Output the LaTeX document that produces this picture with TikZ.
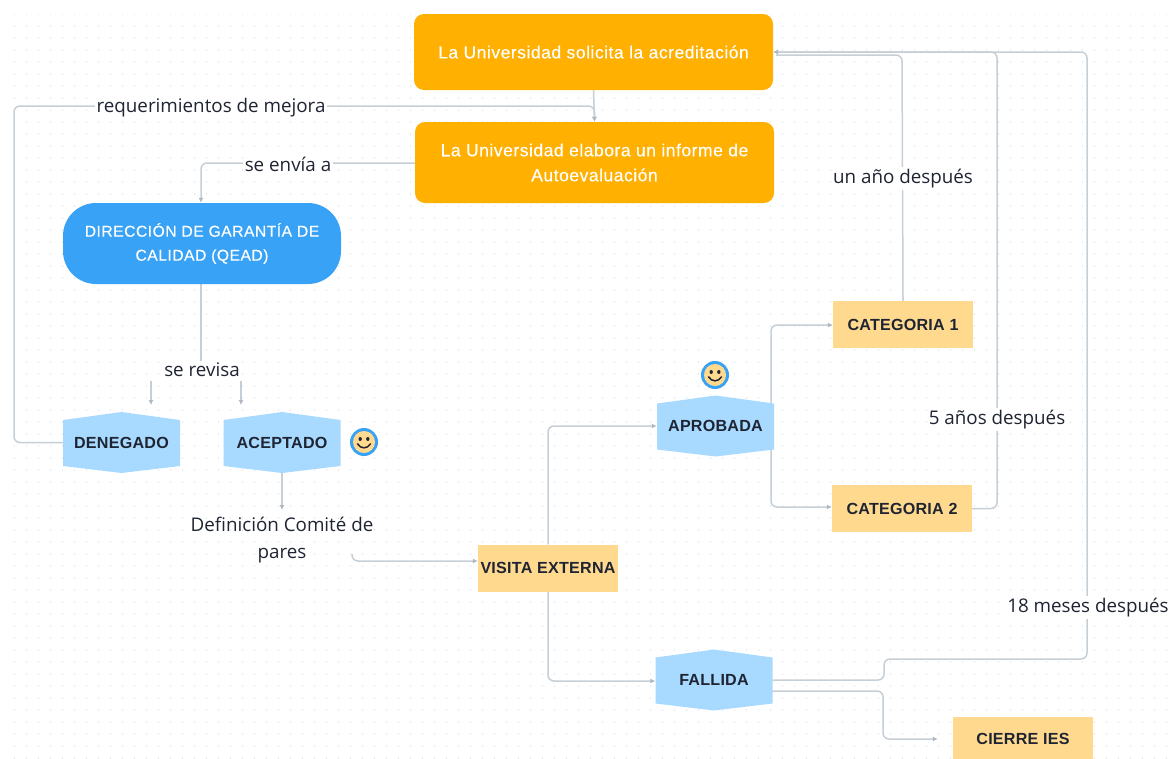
\documentclass[tikz,border=0pt]{standalone}
\usepackage{fontspec}
\setmainfont{Open Sans}
\newfontfamily\boxfont[LetterSpace=3,FakeBold=0.25]{Liberation Sans}
\newfontfamily\headfont[LetterSpace=1.5]{Liberation Sans}
\usetikzlibrary{arrows.meta,calc}
\pgfdeclarelayer{gridlayer}
\pgfdeclarelayer{edgelayer}
\pgfsetlayers{gridlayer,edgelayer,main}
\definecolor{orangebox}{HTML}{FFB000}
\definecolor{bluebox}{HTML}{37A2F6}
\definecolor{hexblue}{HTML}{A8DAFF}
\definecolor{sandbox}{HTML}{FFD98E}
\definecolor{linecol}{HTML}{C6CED6}
\definecolor{tipcol}{HTML}{AEB8C2}
\definecolor{inkcol}{HTML}{1F2433}
\definecolor{dotcol}{HTML}{E6E9EC}
\tikzset{
  x=1pt,y=-1pt,
  orangenode/.style={fill=orangebox,rounded corners=10pt,text=white,minimum width=359pt,minimum height=#1,inner sep=0pt,align=center,font=\boxfont\fontsize{17.5}{25}\selectfont},
  qeadnode/.style={fill=bluebox,rounded corners=33pt,text=white,minimum width=278pt,minimum height=81pt,inner sep=0pt,align=center,font=\boxfont\fontsize{15.7}{24}\selectfont},
  sandnode/.style={fill=sandbox,minimum width=#1,minimum height=47pt,inner sep=0pt,text=inkcol,font=\headfont\bfseries\fontsize{16.1}{17}\selectfont},
  hexnode/.style={minimum width=117pt,minimum height=61pt,inner sep=0pt,text=inkcol,font=\headfont\bfseries\fontsize{16.1}{17}\selectfont,
    path picture={\fill[hexblue] (path picture bounding box.north) -- ($(path picture bounding box.north east)+(0,8)$) -- ($(path picture bounding box.south east)+(0,-7)$) -- (path picture bounding box.south) -- ($(path picture bounding box.south west)+(0,-7)$) -- ($(path picture bounding box.north west)+(0,8)$) -- cycle;}},
  labelnode/.style={fill=white,inner sep=2pt,text=inkcol,align=center,font=\fontsize{18.8}{27}\selectfont},
  link/.style={draw=linecol,line width=1.5pt,rounded corners=6pt},
  arrowlink/.style={link,-{Latex[length=5pt,width=5pt,color=tipcol]}},
  smiley/.pic={
    \fill[bluebox] (0,0) circle (14);
    \fill[sandbox] (0,0) circle (11);
    \fill[inkcol] (-3.8,-3) ellipse (1.7 and 2) (3.8,-3) ellipse (1.7 and 2);
    \draw[inkcol,line width=1.5pt,line cap=round] (-6.5,1.8) .. controls (-3,7.2) and (3,7.2) .. (6.5,1.8);
  }
}
\begin{document}
\begin{tikzpicture}
\useasboundingbox (0,0) rectangle (1169,758);
\node[orangenode=76pt] (solicita) at (593.5,52) {La Universidad solicita la acreditación};
\node[orangenode=81pt] (informe) at (594.5,162.5) {La Universidad elabora un informe de\\Autoevaluación};
\node[qeadnode] (qead) at (202,243.5) {DIRECCIÓN DE GARANTÍA DE\\CALIDAD (QEAD)};
\node[hexnode] (denegado) at (121.5,442.5) {DENEGADO};
\node[hexnode] (aceptado) at (282,442.5) {ACEPTADO};
\node[hexnode] (aprobada) at (715.5,426) {APROBADA};
\node[hexnode] (fallida) at (714,680) {FALLIDA};
\node[sandnode=140pt] (cat1) at (903,324.5) {CATEGORIA 1};
\node[sandnode=140pt] (cat2) at (902,508.5) {CATEGORIA 2};
\node[sandnode=140pt] (visita) at (548,568) {VISITA EXTERNA};
\node[sandnode=140pt,minimum height=44pt,anchor=north] (cierre) at (1023,717) {CIERRE IES};
\node[labelnode] (lmejora) at (211,107.5) {requerimientos de mejora};
\node[labelnode] (lenvia) at (288,164) {se envía a};
\node[labelnode] (lrevisa) at (202,370) {se revisa};
\node[labelnode,fill=none] (ldefinicion) at (282,540) {Definición Comité de\\pares};
\node[labelnode] (lanio) at (903,178.5) {un año después};
\node[labelnode] (lcinco) at (997,419.5) {5 años después};
\node[labelnode] (lmeses) at (1088,607.5) {18 meses después};
\path (364,442) pic {smiley};
\path (715,375) pic {smiley};
\coordinate (junction) at (solicita.east);
\coordinate (revisaleft) at (151,381);
\coordinate (revisaright) at (241,381);
\coordinate (revisaleftend) at (151,405);
\coordinate (revisarightend) at (241,405);
\begin{pgfonlayer}{gridlayer}
\clip (14,14) rectangle (1169,758);
\foreach \yy in {14,26,...,758}
  \draw[dotcol,line width=1.3pt,dash pattern=on 1.3pt off 10.7pt] (14,\yy) -- (1169,\yy);
\end{pgfonlayer}
\begin{pgfonlayer}{edgelayer}
\draw[arrowlink] (solicita.south) -- (informe.north);
\draw[arrowlink] (denegado.center) -- (14,442.5) -- (14,106) -- (594.5,106) -- (informe.north);
\draw[arrowlink] (informe.west |- 0,163) -- (201,163) -- (qead.north -| 201,0);
\draw[link] (qead.south -| 201,0) -- (lrevisa.north -| 201,0);
\draw[arrowlink] (revisaleft) -- (revisaleftend);
\draw[arrowlink] (revisaright) -- (revisarightend);
\draw[arrowlink] (aceptado.south) -- (282,510);
\draw[arrowlink] (352,554) -- (352,561) -- (visita.west |- 0,561);
\draw[arrowlink] (visita.north) -- (548,426) -- (aprobada.west);
\draw[arrowlink] (visita.south) -- (548,681) -- (fallida.west |- 0,681);
\draw[arrowlink] (aprobada.center) -- (771,426) -- (771,325) -- (cat1.west |- 0,325);
\draw[arrowlink] (aprobada.center) -- (771,426) -- (771,507) -- (cat2.west |- 0,507);
\draw[link] (cat1.north) -- (902,55) -- (776,55);
\draw[arrowlink] (cat2.east) -- (997,508.5) -- (997,52) -- (junction);
\draw[arrowlink] (fallida.east) -- (884,680) -- (884,659) -- (1087,659) -- (1087,52) -- (junction);
\draw[arrowlink] (772,691) -- (883,691) -- (883,739) -- ([xshift=-15pt]cierre.west |- 0,739);
\end{pgfonlayer}
\end{tikzpicture}
\end{document}
